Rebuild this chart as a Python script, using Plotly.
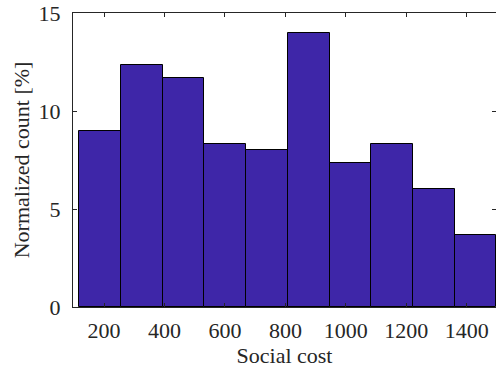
import plotly.graph_objects as go

# Histogram data
bin_edges = [118, 256, 394, 532, 670, 808, 946, 1084, 1222, 1360, 1498]
normalized_count = [9.0, 12.333, 11.667, 8.333, 8.0, 14.0, 7.333, 8.333, 6.0, 3.667]
x_ticks = [200, 400, 600, 800, 1000, 1200, 1400]
y_ticks = [0, 5, 10, 15]

centers = [(a + b) / 2 for a, b in zip(bin_edges[:-1], bin_edges[1:])]
widths = [b - a for a, b in zip(bin_edges[:-1], bin_edges[1:])]

FONT = "'Liberation Serif', 'Times New Roman', serif"
AX = "#262626"
FS = 22

fig = go.Figure(go.Bar(
    x=centers, y=normalized_count, width=widths,
    marker=dict(color="rgb(62,38,168)", line=dict(color="#000000", width=1)),
    hoverinfo="skip",
))

fig.update_layout(
    width=496, height=372,
    margin=dict(l=73, r=0, t=13, b=65),
    paper_bgcolor="white", plot_bgcolor="white",
    font=dict(family=FONT, size=FS, color=AX),
    showlegend=False,
    bargap=0,
)
fig.update_xaxes(
    range=[97, 1497], tickvals=x_ticks, ticks="inside", ticklen=4, tickcolor=AX,
    showline=True, linecolor=AX, linewidth=1, mirror="ticks", showgrid=False,
    zeroline=False, tickfont=dict(family=FONT, size=FS, color=AX),
    ticklabelstandoff=4,
    title=dict(text="Social cost", font=dict(family=FONT, size=FS, color=AX), standoff=5),
)
fig.update_yaxes(
    range=[0, 15], tickvals=y_ticks, ticks="inside", ticklen=4, tickcolor=AX,
    showline=True, linecolor=AX, linewidth=1, mirror="ticks", showgrid=False,
    zeroline=False, tickfont=dict(family=FONT, size=FS, color=AX),
    ticklabelstandoff=7,
    title=dict(text="Normalized count [%]", font=dict(family=FONT, size=FS, color=AX), standoff=2),
)

fig.write_html("out.html")
